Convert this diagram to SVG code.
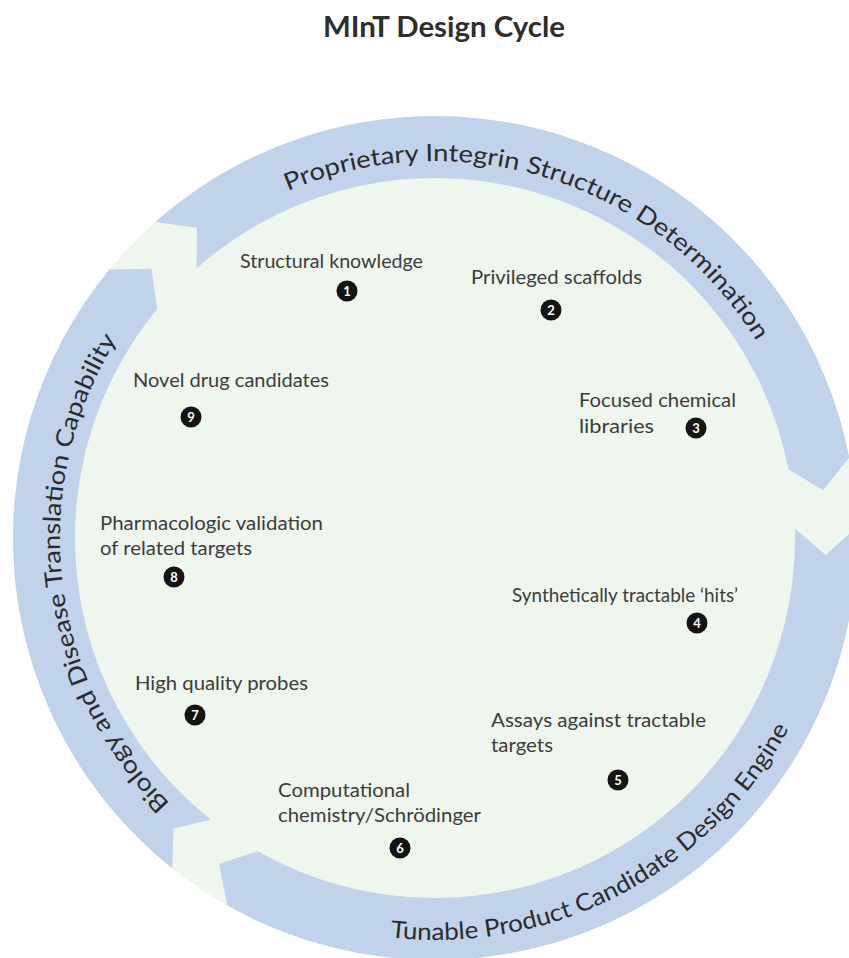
<svg xmlns="http://www.w3.org/2000/svg" width="849" height="958" viewBox="0 0 849 958">
  <style>
    .band { fill: #c1d3eb; }
    .band-label { font-family: Lato, "Open Sans", "Liberation Sans", sans-serif; font-size: 24px; fill: #2b2b2b; }
    .label { font-family: Lato, "Open Sans", "Liberation Sans", sans-serif; font-size: 19.5px; fill: #3c3c3c; }
    .badge circle { fill: #141414; }
    .badge text { font-family: Lato, "Open Sans", "Liberation Sans", sans-serif; font-weight: bold; font-size: 13px; fill: #ffffff; text-anchor: middle; }
    .title { font-family: Lato, "Open Sans", "Liberation Sans", sans-serif; font-weight: bold; font-size: 28px; fill: #2e2e2e; }
  </style>
  <defs>
    <!-- baselines for the ring captions, centred on (435,538) -->
    <path id="arc-top" d="M 218.8 229.2 A 377 377 0 0 1 799.1 440.4"/>
    <path id="arc-bottom" d="M 365.2 933.9 A 402 402 0 0 0 812.8 675.5"/>
    <path id="arc-left" d="M 219.9 845.2 A 375 375 0 0 1 169.8 272.8"/>
  </defs>

  <rect width="849" height="958" fill="#ffffff"/>

  <text class="title" x="323" y="37" textLength="242" lengthAdjust="spacingAndGlyphs">MInT Design Cycle</text>

  <!-- cycle disc -->
  <circle cx="435" cy="538" r="422" fill="#eff6ed"/>

  <!-- curved cycle arrows -->
  <g id="connectors">
    <g id="arrow-structure">
      <path class="band" d="M 155.4 221.9 A 422 422 0 0 1 849.2 457.5 L 823.1 490.3 L 788.4 469.3 A 360 360 0 0 0 196.5 268.4 L 197.0 227.8 Z"/>
      <text class="band-label"><textPath href="#arc-top" startOffset="79" textLength="536" lengthAdjust="spacingAndGlyphs">Proprietary Integrin Structure Determination</textPath></text>
    </g>
    <g id="arrow-design">
      <path class="band" d="M 856.9 527.0 A 422 422 0 0 1 227.2 905.3 L 219.2 864.1 L 257.7 851.3 A 360 360 0 0 0 794.9 528.6 L 825.6 555.1 Z"/>
      <text class="band-label"><textPath href="#arc-bottom" startOffset="25" textLength="478" lengthAdjust="spacingAndGlyphs">Tunable Product Candidate Design Engine</textPath></text>
    </g>
    <g id="arrow-biology">
      <path class="band" d="M 172.3 868.3 A 422 422 0 0 1 109.4 269.6 L 151.4 268.8 L 157.2 309.0 A 360 360 0 0 0 210.9 819.7 L 173.4 828.6 Z"/>
      <text class="band-label"><textPath href="#arc-left" startOffset="65" textLength="504" lengthAdjust="spacingAndGlyphs">Biology and Disease Translation Capability</textPath></text>
    </g>
  </g>

  <!-- numbered steps -->
  <g id="step-1">
    <text class="label" x="240" y="268" textLength="183" lengthAdjust="spacingAndGlyphs">Structural knowledge</text>
    <g class="badge"><circle cx="347" cy="291" r="10.5"/><text x="347" y="295.5">1</text></g>
  </g>
  <g id="step-2">
    <text class="label" x="471" y="284" textLength="171" lengthAdjust="spacingAndGlyphs">Privileged scaffolds</text>
    <g class="badge"><circle cx="551" cy="310" r="10.5"/><text x="551" y="314.5">2</text></g>
  </g>
  <g id="step-3">
    <text class="label" x="579" y="407" textLength="157" lengthAdjust="spacingAndGlyphs">Focused chemical</text>
    <text class="label" x="579" y="433" textLength="75" lengthAdjust="spacingAndGlyphs">libraries</text>
    <g class="badge"><circle cx="696" cy="428" r="10.5"/><text x="696" y="432.5">3</text></g>
  </g>
  <g id="step-4">
    <text class="label" x="512" y="602" textLength="226" lengthAdjust="spacingAndGlyphs">Synthetically tractable ‘hits’</text>
    <g class="badge"><circle cx="697" cy="623" r="10.5"/><text x="697" y="627.5">4</text></g>
  </g>
  <g id="step-5">
    <text class="label" x="491" y="727" textLength="215" lengthAdjust="spacingAndGlyphs">Assays against tractable</text>
    <text class="label" x="491" y="752" textLength="62" lengthAdjust="spacingAndGlyphs">targets</text>
    <g class="badge"><circle cx="618" cy="780" r="10.5"/><text x="618" y="784.5">5</text></g>
  </g>
  <g id="step-6">
    <text class="label" x="278" y="797" textLength="132" lengthAdjust="spacingAndGlyphs">Computational</text>
    <text class="label" x="278" y="822" textLength="203" lengthAdjust="spacingAndGlyphs">chemistry/Schrödinger</text>
    <g class="badge"><circle cx="400" cy="848" r="10.5"/><text x="400" y="852.5">6</text></g>
  </g>
  <g id="step-7">
    <text class="label" x="135" y="690" textLength="173" lengthAdjust="spacingAndGlyphs">High quality probes</text>
    <g class="badge"><circle cx="195" cy="715" r="10.5"/><text x="195" y="719.5">7</text></g>
  </g>
  <g id="step-8">
    <text class="label" x="100" y="530" textLength="223" lengthAdjust="spacingAndGlyphs">Pharmacologic validation</text>
    <text class="label" x="100" y="555" textLength="152" lengthAdjust="spacingAndGlyphs">of related targets</text>
    <g class="badge"><circle cx="174" cy="577" r="10.5"/><text x="174" y="581.5">8</text></g>
  </g>
  <g id="step-9">
    <text class="label" x="133" y="387" textLength="196" lengthAdjust="spacingAndGlyphs">Novel drug candidates</text>
    <g class="badge"><circle cx="191" cy="417" r="10.5"/><text x="191" y="421.5">9</text></g>
  </g>
</svg>
